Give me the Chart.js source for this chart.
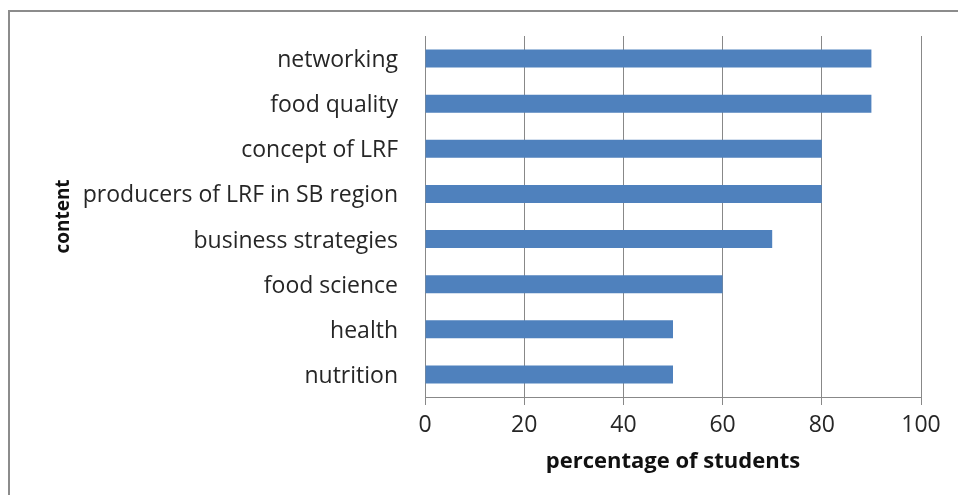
<!DOCTYPE html>
<html>
<head>
<meta charset="utf-8">
<title>Content preferences</title>
<script src="https://cdn.jsdelivr.net/npm/chart.js@4"></script>
<style>
  html, body { margin: 0; padding: 0; background: #fff; overflow: hidden; }
  #wrap { width: 958px; height: 495px; position: relative; }
</style>
</head>
<body>
<div id="wrap"><canvas id="contentChart"></canvas></div>
<script>
// ===== Data =====
const topics = [
  "networking",
  "food quality",
  "concept of LRF",
  "producers of LRF in SB region",
  "business strategies",
  "food science",
  "health",
  "nutrition"
];
const percentages = [90, 90, 80, 80, 70, 60, 50, 50];
const xTicks = [0, 20, 40, 60, 80, 100];

const GRID_GRAY = "#888888";
const TEXT = "#262626";

Chart.defaults.font.family = "'Open Sans', sans-serif";

// outer frame (right and bottom edges run off the canvas)
const framePlugin = {
  id: "frame",
  beforeDraw(chart) {
    const ctx = chart.ctx;
    ctx.save();
    ctx.strokeStyle = "#8c8c8c";
    ctx.lineWidth = 2;
    ctx.strokeRect(9, 11, 1200, 1000);
    ctx.restore();
  }
};

const ctx = document.getElementById("contentChart").getContext("2d");
new Chart(ctx, {
  type: "bar",
  data: {
    labels: topics,
    datasets: [{
      label: "percentage of students",
      data: percentages,
      backgroundColor: "#4F81BD",
      borderWidth: 0,
      categoryPercentage: 1,
      barPercentage: 0.4
    }]
  },
  options: {
    indexAxis: "y",
    responsive: true,
    maintainAspectRatio: false,
    animation: false,
    layout: { padding: { left: 10, right: 37, top: 36, bottom: 0 } },
    plugins: {
      legend: { display: false },
      tooltip: { enabled: false }
    },
    scales: {
      x: {
        min: 0,
        max: 100,
        afterBuildTicks: (scale) => {
          scale.ticks = xTicks.map(v => ({ value: v }));
        },
        afterFit: (scale) => { scale.height = 98; },
        grid: {
          color: GRID_GRAY,
          lineWidth: 1,
          drawTicks: true,
          tickLength: 8
        },
        border: { color: GRID_GRAY, width: 1 },
        ticks: {
          color: TEXT,
          padding: 7,
          font: { size: 23 }
        },
        title: {
          display: true,
          text: "percentage of students",
          color: "#111",
          font: { size: 22, weight: "bold" },
          padding: { top: 0, bottom: 20 }
        }
      },
      y: {
        afterFit: (scale) => { scale.width = 415; },
        // hidden tick marks still reserve the gap between labels and axis
        grid: { display: false, drawTicks: true, tickLength: 23 },
        border: { display: true, color: GRID_GRAY, width: 1 },
        ticks: {
          color: TEXT,
          padding: 4,
          labelOffset: 2,
          autoSkip: false,
          font: { size: 23 }
        },
        title: {
          display: true,
          text: "content",
          color: "#111",
          font: { size: 19, weight: "bold" },
          padding: { top: 42, bottom: 0 }
        }
      }
    }
  },
  plugins: [framePlugin]
});
</script>
</body>
</html>
